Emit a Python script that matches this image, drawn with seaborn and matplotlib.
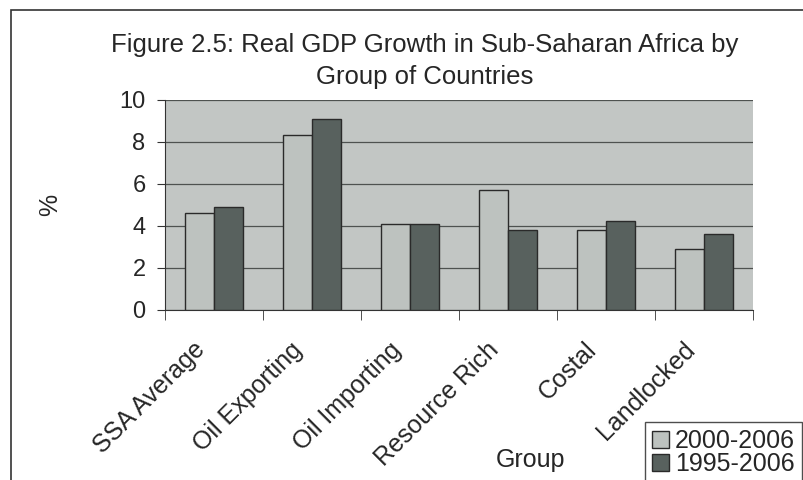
import pandas as pd
import seaborn as sns
import matplotlib
matplotlib.use("Agg")
import matplotlib.pyplot as plt
import matplotlib.transforms as mtransforms
from matplotlib.patches import Rectangle

sns.set_style("white")
plt.rcParams['font.family'] = ['Liberation Sans', 'DejaVu Sans']

groups = ["SSA Average", "Oil Exporting", "Oil Importing", "Resource Rich", "Costal", "Landlocked"]
growth_2000_2006 = [4.6, 8.35, 4.1, 5.7, 3.8, 2.9]
growth_1995_2006 = [4.9, 9.1, 4.1, 3.8, 4.25, 3.6]
periods = ["2000-2006", "1995-2006"]

df = pd.DataFrame({
    "Group": groups * 2,
    "Period": [periods[0]] * len(groups) + [periods[1]] * len(groups),
    "Growth": growth_2000_2006 + growth_1995_2006,
})

fig = plt.figure(figsize=(8.04, 4.80), dpi=100)
ax = fig.add_axes([165 / 804, 1 - 310 / 480, 588 / 804, 210 / 480])
ax.set_facecolor("#c2c6c4")

sns.barplot(data=df, x="Group", y="Growth", hue="Period", hue_order=periods,
            palette=["#bcc3bf", "#56625e"], width=0.59, gap=0,
            edgecolor="#2a2a2a", linewidth=1.0, ax=ax, zorder=3)

ax.set_ylim(0, 10)
ax.set_yticks([0, 2, 4, 6, 8, 10])
ax.set_xlim(-0.5, len(groups) - 0.5)
ax.yaxis.grid(True, color="#4e5250", linewidth=0.9, zorder=1)
ax.set_axisbelow(True)
for s in ["top", "right"]:
    ax.spines[s].set_visible(False)
ax.spines["left"].set_color("#333333")
ax.spines["bottom"].set_color("#333333")

ax.tick_params(axis="y", labelsize=17, length=6, left=True, color="#333333", pad=8)
ax.set_xticks([i - 0.5 for i in range(len(groups) + 1)], minor=True)
ax.tick_params(axis="x", which="minor", length=7, bottom=True, color="#333333")
ax.tick_params(axis="x", which="major", length=0, labelsize=18, pad=26)
ax.set_xticks(range(len(groups)))
ax.set_xticklabels(groups, rotation=45, ha="right", va="center", rotation_mode="anchor")
# shift rotated labels a bit left so their ends sit just left of the group centre
shift = mtransforms.ScaledTranslation(-0.13, 0, fig.dpi_scale_trans)
for lab in ax.get_xticklabels():
    lab.set_transform(lab.get_transform() + shift)

ax.set_xlabel("")
ax.set_ylabel("")
fig.text(50 / 804, 1 - 205 / 480, "%", rotation=90, fontsize=18, ha="center", va="center")
fig.text(531 / 804, 1 - 466.7 / 480, "Group", fontsize=18, ha="center", va="baseline")

fig.text(425 / 804, 1 - 51.7 / 480, "Figure 2.5: Real GDP Growth in Sub-Saharan Africa by",
         fontsize=18.5, ha="center", va="baseline")
fig.text(425 / 804, 1 - 84 / 480, "Group of Countries", fontsize=18.5, ha="center", va="baseline")

leg = ax.legend(loc="upper left", bbox_to_anchor=(645 / 804, 1 - 422 / 480), bbox_transform=fig.transFigure,
                frameon=True, fontsize=18, handlelength=0.65, handleheight=0.65,
                handletextpad=0.25, borderpad=0.3, labelspacing=-0.05, borderaxespad=0)
leg.get_frame().set_edgecolor("#222222")
leg.get_frame().set_linewidth(1.0)
leg.get_frame().set_boxstyle("square", pad=0)

fig.patches.append(Rectangle((11 / 804, -0.01), 1.0, 1 - 10 / 480 + 0.01, transform=fig.transFigure,
                             fill=False, edgecolor="#333333", linewidth=1.2))

fig.savefig("out.png", dpi=100)
